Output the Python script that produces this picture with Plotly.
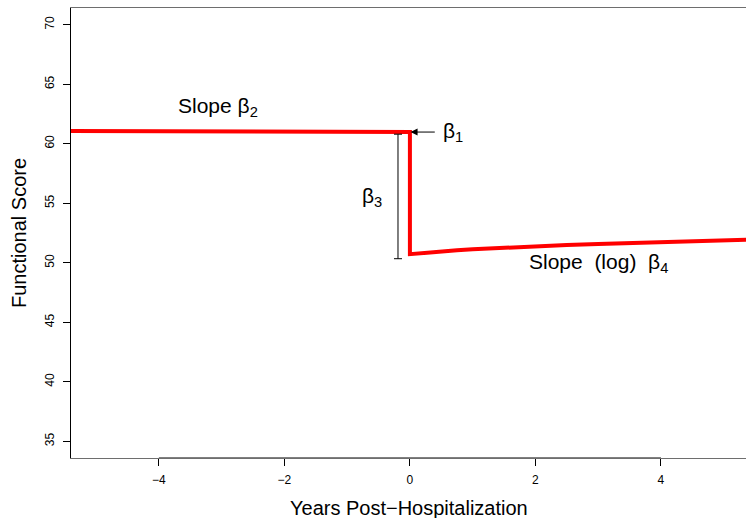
import plotly.graph_objects as go

# ---- data ----
pre_x = [-5.4, 0.0]
pre_y = [61.07, 60.98]
drop_x = [0.0, 0.0]
drop_y = [60.98, 50.72]
post_x = [0.0, 0.1, 0.25, 0.5, 0.75, 1.0, 1.5, 2.0, 2.5, 3.0, 3.5, 4.0, 4.5, 5.0, 5.4]
post_y = [50.72, 50.77, 50.84, 50.95, 51.05, 51.13, 51.27, 51.39, 51.49, 51.58, 51.66, 51.74, 51.80, 51.87, 51.93]

beta3_x = -0.19
beta3_top = 60.8
beta3_bottom = 50.34

beta1_tip = (0.01, 60.98)
beta1_tail = (0.42, 60.98)

x_ticks = [-4, -2, 0, 2, 4]
y_ticks = [35, 40, 45, 50, 55, 60, 65, 70]
x_range = [-5.4, 5.355]
y_range = [33.6, 71.4]

NB = "\u00a0"
labels = [
    ("Slope β<sub>2</sub>", -3.06, 63.1),
    ("β<sub>1</sub>", 0.68, 61.0),
    ("β<sub>3</sub>", -0.6, 55.55),
    ("Slope" + NB * 2 + "(log)" + NB * 2 + "β<sub>4</sub>", 3.0, 49.95),
]

FONT = "Liberation Sans, Arial, Helvetica, sans-serif"

line_x = pre_x + drop_x[1:] + post_x
line_y = pre_y + drop_y[1:] + post_y

fig = go.Figure()
fig.add_trace(go.Scatter(x=line_x, y=line_y, mode="lines",
                         line=dict(color="#ff0000", width=4), hoverinfo="skip"))

# beta3 bracket via error bar
mid = (beta3_top + beta3_bottom) / 2
half = (beta3_top - beta3_bottom) / 2
fig.add_trace(go.Scatter(x=[beta3_x], y=[mid], mode="markers",
                         marker=dict(size=1, color="rgba(0,0,0,0)"),
                         error_y=dict(type="data", array=[half], symmetric=True,
                                      color="black", thickness=1, width=4),
                         hoverinfo="skip"))

# axis segment (R style: line only from first to last tick)
fig.add_trace(go.Scatter(x=[x_ticks[0], x_ticks[-1]], y=[y_range[0], y_range[0]],
                         mode="lines", line=dict(color="black", width=1),
                         hoverinfo="skip", cliponaxis=False))

fig.add_annotation(x=beta1_tip[0], y=beta1_tip[1], ax=beta1_tail[0], ay=beta1_tail[1],
                   axref="x", ayref="y", xref="x", yref="y", text="",
                   showarrow=True, arrowhead=2, arrowsize=1.4, arrowwidth=1,
                   arrowcolor="black")

for txt, x, y in labels:
    fig.add_annotation(x=x, y=y, text=txt, showarrow=False,
                       font=dict(family=FONT, size=21, color="black"))

# axis titles
fig.add_annotation(xref="paper", yref="paper", x=0.5, y=0, yshift=-50,
                   text="Years Post−Hospitalization", showarrow=False,
                   xanchor="center", yanchor="middle",
                   font=dict(family=FONT, size=20, color="black"))
fig.add_annotation(xref="paper", yref="paper", x=0, y=0.5, xshift=-52,
                   text="Functional Score", showarrow=False, textangle=-90,
                   xanchor="center", yanchor="middle",
                   font=dict(family=FONT, size=20, color="black"))

fig.update_layout(
    width=746, height=518,
    margin=dict(l=71, r=0, t=8, b=60),
    plot_bgcolor="white", paper_bgcolor="white",
    showlegend=False,
    font=dict(family=FONT, size=12, color="black"),
)
fig.update_xaxes(range=x_range, tickvals=x_ticks, ticktext=[f"{v}".replace("-", "−") for v in x_ticks],
                 showgrid=False, zeroline=False, showline=True, mirror=True,
                 linecolor="#6e6e6e", linewidth=1, ticks="outside", ticklen=7,
                 tickcolor="black", tickwidth=1, tickfont=dict(size=12, family=FONT),
                 ticklabelstandoff=4)
fig.update_yaxes(range=y_range, tickvals=y_ticks, showgrid=False, zeroline=False,
                 showline=True, mirror=False, linecolor="black", linewidth=1,
                 ticks="outside", ticklen=7, tickcolor="black", tickwidth=1,
                 tickangle=-90, tickfont=dict(size=12, family=FONT),
                 ticklabelstandoff=4)

fig.write_html("out.html")
